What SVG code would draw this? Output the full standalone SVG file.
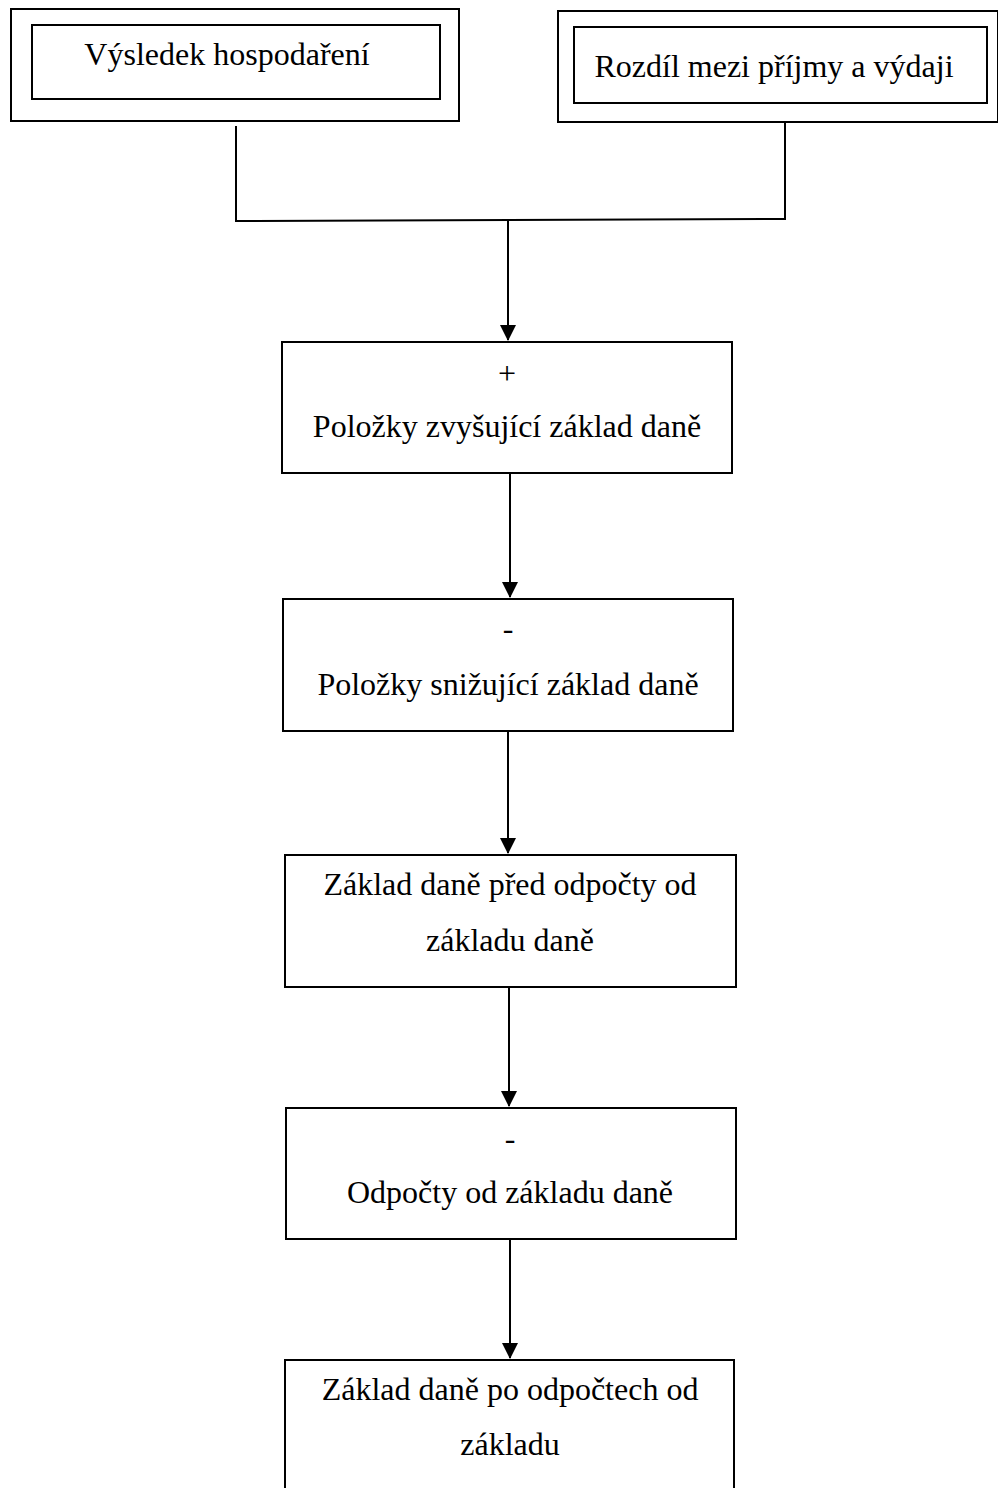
<svg xmlns="http://www.w3.org/2000/svg" width="998" height="1488" viewBox="0 0 998 1488">
<style>
.box{fill:#fff;stroke:#000;stroke-width:2}
.t{font-family:"Liberation Serif","Times New Roman",serif;font-size:32px;fill:#000;text-anchor:middle}
.c{fill:none;stroke:#000;stroke-width:2}
</style>
<defs>
<marker id="ah" markerWidth="16" markerHeight="16" refX="15" refY="8" orient="auto" markerUnits="userSpaceOnUse" viewBox="0 0 16 16">
<path d="M0,0 L16,8 L0,16 Z" fill="#000"/>
</marker>
</defs>
<rect width="998" height="1488" fill="#fff"/>
<g id="n1">
<rect class="box" x="11" y="9" width="448" height="112"/>
<rect class="box" x="32" y="25" width="408" height="74"/>
<text class="t" x="227" y="65">Výsledek hospodaření</text>
</g>
<g id="n2">
<rect class="box" x="558" y="11" width="440" height="111"/>
<rect class="box" x="574" y="27" width="413" height="76"/>
<text class="t" x="774" y="77">Rozdíl mezi příjmy a výdaji</text>
</g>
<g id="n3">
<rect class="box" x="282" y="342" width="450" height="131"/>
<text class="t" x="507" y="384">+</text>
<text class="t" x="507" y="437">Položky zvyšující základ daně</text>
</g>
<g id="n4">
<rect class="box" x="283" y="599" width="450" height="132"/>
<text class="t" x="508" y="639">-</text>
<text class="t" x="508" y="695">Položky snižující základ daně</text>
</g>
<g id="n5">
<rect class="box" x="285" y="855" width="451" height="132"/>
<text class="t" x="510" y="895">Základ daně před odpočty od</text>
<text class="t" x="510" y="951">základu daně</text>
</g>
<g id="n6">
<rect class="box" x="286" y="1108" width="450" height="131"/>
<text class="t" x="510" y="1149">-</text>
<text class="t" x="510" y="1203">Odpočty od základu daně</text>
</g>
<g id="n7">
<rect class="box" x="285" y="1360" width="449" height="140"/>
<text class="t" x="510" y="1400">Základ daně po odpočtech od</text>
<text class="t" x="510" y="1455">základu</text>
</g>
<g id="connectors">
<path class="c" d="M236,126 L236,221 L785,219 L785,122"/>
<line class="c" x1="508" y1="220" x2="508" y2="340" marker-end="url(#ah)"/>
<line class="c" x1="510" y1="473" x2="510" y2="597" marker-end="url(#ah)"/>
<line class="c" x1="508" y1="731" x2="508" y2="853" marker-end="url(#ah)"/>
<line class="c" x1="509" y1="987" x2="509" y2="1106" marker-end="url(#ah)"/>
<line class="c" x1="510" y1="1239" x2="510" y2="1358" marker-end="url(#ah)"/>
</g>
</svg>
